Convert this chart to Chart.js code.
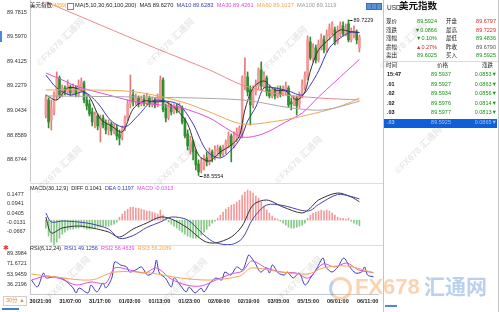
<!DOCTYPE html>
<html>
<head>
<meta charset="utf-8">
<title>美元指数</title>
<script src="https://cdn.jsdelivr.net/npm/chart.js@4.4.1/dist/chart.umd.min.js"></script>
<style>
  html, body { margin: 0; padding: 0; }
  body { position: relative; width: 499px; height: 312px; overflow: hidden; background: #fff;
         font-family: "Liberation Sans", "Noto Sans CJK SC", sans-serif; color: #222; }
  canvas { position: absolute; left: 0; }
  .t { position: absolute; white-space: nowrap; font-size: 5.5px; line-height: 7px; }
  .hl { position: absolute; height: 1px; background: #dedede; }
  #side { position: absolute; left: 383px; top: 0; width: 116px; height: 312px; background: #fff;
          border-left: 1px solid #c4c4c4; border-right: 1px solid #c4c4c4; box-sizing: border-box; }
  .box { position: absolute; }
  .wm { position: absolute; white-space: nowrap; font-size: 9px; font-weight: bold; line-height: 10px;
        color: rgba(120,120,120,0.17); transform: rotate(-45deg); transform-origin: center; pointer-events: none; }
</style>
</head>
<body>
<canvas id="mainChart" width="385" height="182" style="top:0"></canvas>
<canvas id="macdChart" width="385" height="57" style="top:189px"></canvas>
<canvas id="rsiChart" width="385" height="65" style="top:247px"></canvas>
<div class="hl" style="left:30px;top:183px;width:353px"></div>
<div class="hl" style="left:30px;top:245px;width:353px"></div>
<div id="side"></div>
<script>
// hourly bars, oldest first
const opens = [89.009,89.122,88.972,89.032,89.152,89.287,89.159,89.212,89.182,89.219,
  89.174,89.212,89.159,89.212,89.249,89.122,89.092,89.032,88.957,89.002,
  88.912,88.987,88.942,88.897,88.942,88.889,88.912,88.867,88.852,88.912,
  88.987,89.092,89.159,89.107,89.137,89.092,89.129,89.099,89.137,89.092,
  89.122,89.084,89.122,89.272,89.062,88.987,89.077,89.032,89.077,89.047,
  89.062,88.972,88.867,88.747,88.807,88.732,88.642,88.597,88.627,88.687,
  88.657,88.732,88.687,88.732,88.762,88.717,88.747,88.792,88.852,88.777,
  88.837,88.867,88.852,89.227,89.294,89.197,89.092,89.182,89.227,89.347,
  89.227,89.287,89.197,89.152,89.197,89.152,89.197,89.167,89.182,89.212,
  89.107,89.092,89.137,89.092,89.152,89.227,89.287,89.557,89.437,89.512,
  89.422,89.527,89.572,89.497,89.602,89.632,89.647,89.557,89.617,89.677,
  89.617,89.692,89.572,89.617,89.632,89.512];
const highs = [89.159,89.137,89.122,89.182,89.332,89.302,89.234,89.227,89.272,89.234,
  89.242,89.227,89.272,89.287,89.264,89.152,89.122,89.062,89.032,89.017,
  89.009,89.009,88.972,88.972,88.957,88.942,88.934,88.897,88.927,89.002,
  89.122,89.309,89.197,89.167,89.152,89.152,89.159,89.174,89.152,89.144,
  89.137,89.167,89.302,89.287,89.092,89.107,89.092,89.092,89.092,89.099,
  89.077,88.987,88.897,88.852,88.822,88.747,88.672,88.687,88.709,88.732,
  88.762,88.747,88.777,88.784,88.777,88.784,88.822,88.882,88.867,88.882,
  88.912,88.927,89.302,89.437,89.332,89.227,89.227,89.272,89.362,89.407,
  89.332,89.302,89.227,89.212,89.212,89.227,89.227,89.227,89.257,89.227,
  89.137,89.152,89.152,89.182,89.272,89.332,89.602,89.594,89.542,89.534,
  89.572,89.617,89.602,89.647,89.692,89.707,89.669,89.677,89.707,89.707,
  89.692,89.7229,89.662,89.677,89.647,89.609];
const lows = [88.987,88.912,88.897,89.009,89.122,89.137,89.144,89.159,89.167,89.152,
  89.159,89.144,89.144,89.182,89.099,89.047,89.002,88.927,88.912,88.897,
  88.807,88.912,88.867,88.859,88.859,88.867,88.822,88.784,88.822,88.889,
  88.964,89.062,89.077,89.084,89.069,89.077,89.077,89.084,89.069,89.069,
  89.062,89.069,89.107,89.032,88.957,88.972,89.009,89.017,89.024,89.032,
  88.942,88.837,88.747,88.717,88.672,88.597,88.5554,88.574,88.597,88.627,
  88.634,88.657,88.672,88.702,88.694,88.702,88.717,88.762,88.657,88.762,
  88.807,88.837,88.837,89.197,89.152,88.934,89.062,89.159,89.197,89.197,
  89.212,89.152,89.137,89.137,89.129,89.137,89.144,89.152,89.159,89.069,
  89.047,89.077,89.009,89.062,89.137,89.197,89.272,89.422,89.407,89.399,
  89.407,89.497,89.474,89.482,89.572,89.609,89.534,89.542,89.594,89.602,
  89.602,89.557,89.557,89.587,89.542,89.482];
const closes = [89.137,88.957,89.062,89.159,89.287,89.159,89.212,89.182,89.227,89.174,
  89.212,89.167,89.234,89.257,89.122,89.077,89.017,88.957,89.009,88.927,
  88.987,88.934,88.897,88.942,88.889,88.919,88.852,88.837,88.912,88.987,
  89.092,89.159,89.107,89.137,89.092,89.129,89.099,89.137,89.092,89.122,
  89.084,89.137,89.272,89.047,88.987,89.077,89.032,89.077,89.047,89.077,
  88.957,88.852,88.777,88.822,88.732,88.634,88.582,88.657,88.687,88.657,
  88.732,88.687,88.747,88.762,88.717,88.762,88.807,88.852,88.777,88.852,
  88.882,88.912,89.287,89.309,89.182,89.084,89.197,89.242,89.347,89.227,
  89.302,89.182,89.152,89.197,89.152,89.197,89.167,89.204,89.227,89.084,
  89.092,89.137,89.077,89.152,89.242,89.309,89.572,89.437,89.512,89.422,
  89.542,89.587,89.497,89.617,89.662,89.692,89.557,89.647,89.684,89.617,
  89.662,89.572,89.632,89.647,89.572,89.5924];

// moving averages: [bar, value]
const ma5 = [[0,89.159],[4,89.122],[8,89.212],[12,89.204],[16,89.144],[20,88.979],[24,88.927],[28,88.882],
  [32,89.054],[36,89.114],[40,89.107],[44,89.107],[48,89.047],[52,88.942],[56,88.709],[60,88.664],
  [64,88.732],[68,88.784],[71,88.852],[73,89.047],[76,89.212],[80,89.264],[84,89.197],[88,89.189],
  [92,89.122],[95,89.182],[97,89.339],[100,89.497],[104,89.579],[108,89.647],[112,89.632],[115,89.627]];
const ma10 = [[0,89.309],[4,89.212],[9,89.159],[14,89.182],[19,89.099],[24,88.964],[29,88.919],[34,89.009],
  [39,89.114],[44,89.114],[49,89.084],[54,88.942],[59,88.739],[64,88.687],[69,88.769],[72,88.859],
  [74,88.964],[77,89.069],[80,89.212],[84,89.212],[89,89.189],[94,89.159],[97,89.234],[100,89.339],
  [104,89.512],[108,89.587],[112,89.632],[115,89.628]];
const ma30 = [[0,89.324],[6,89.272],[12,89.219],[23,89.159],[33,89.107],[45,89.077],[50,89.062],[60,88.987],
  [66,88.912],[72,88.844],[77,88.852],[82,88.889],[88,88.957],[94,89.024],[100,89.144],[106,89.257],
  [110,89.332],[115,89.426]];
const ma60 = [[0,89.197],[15,89.197],[33,89.182],[50,89.107],[60,89.032],[72,88.942],[85,88.964],
  [96,89.009],[106,89.062],[112,89.107],[115,89.137]];
const ma100 = [[0,89.152],[33,89.144],[72,89.122],[90,89.062],[102,89.047],[115,89.112]];
const ma200 = [[0,89.857],[20,89.684],[40,89.512],[60,89.347],[72,89.234],[85,89.167],[100,89.137],[115,89.122]];

// MACD(30,12,9)
const macdHist = [-0.045,-0.090,-0.124,-0.141,-0.124,-0.102,-0.079,-0.068,-0.057,-0.051,
  -0.051,-0.045,-0.045,-0.040,-0.045,-0.051,-0.051,-0.045,-0.045,-0.040,
  -0.040,-0.034,-0.034,-0.034,-0.028,-0.023,-0.011,0.017,0.034,0.051,
  0.062,0.073,0.073,0.068,0.068,0.062,0.057,0.051,0.051,0.045,
  0.040,0.034,0.057,0.028,0.011,-0.011,-0.023,-0.034,-0.045,-0.057,
  -0.068,-0.079,-0.090,-0.096,-0.102,-0.102,-0.096,-0.085,-0.068,-0.051,
  -0.034,-0.017,-0.006,0.011,0.028,0.045,0.062,0.073,0.085,0.090,
  0.102,0.113,0.141,0.158,0.170,0.164,0.153,0.136,0.124,0.102,
  0.079,0.057,0.040,0.023,0.011,0.006,-0.006,-0.017,-0.028,-0.040,
  -0.045,-0.045,-0.040,-0.034,-0.028,-0.017,0.011,0.028,0.040,0.045,
  0.051,0.057,0.051,0.057,0.051,0.040,0.028,0.017,0.011,0.011,
  0.006,0.011,-0.006,-0.017,-0.023,-0.0313];
const diff = [[0,0.0177],[2,-0.0727],[6,-0.0444],[12,-0.0331],[17,-0.0444],[23,-0.0670],[27,-0.0953],
  [32,-0.0501],[37,-0.0162],[42,0.0177],[46,0.0064],[52,-0.0444],[58,-0.1179],[62,-0.1292],[68,-0.0953],
  [72,-0.0331],[76,0.0855],[81,0.1138],[87,0.0742],[94,0.0403],[97,0.0686],[100,0.1138],[107,0.1534],
  [112,0.1307],[115,0.1041]];
const dea = [[0,0.0403],[2,-0.0105],[6,-0.0049],[12,-0.0105],[17,-0.0218],[23,-0.0501],[27,-0.1037],
  [32,-0.0868],[37,-0.0416],[42,-0.0105],[46,0.0177],[52,0.0008],[58,-0.0840],[62,-0.1263],[68,-0.1376],
  [72,-0.1037],[76,0.0093],[81,0.0855],[87,0.0827],[94,0.0545],[97,0.0545],[100,0.0884],[107,0.1449],
  [112,0.1336],[115,0.1197]];

// RSI(6,12,24)
const rsi1 = [[0,43.8],[2,31.9],[4,55.7],[5,47.2],[7,48.9],[10,47.2],[12,40.4],[14,30.2],[15,21.7],[16,30.2],
  [19,21.7],[20,35.3],[22,23.4],[24,38.7],[25,30.2],[27,47.2],[28,74.5],[30,69.4],[32,66.0],[33,57.4],
  [35,60.9],[37,66.0],[39,52.3],[41,57.4],[42,77.9],[43,55.7],[45,47.2],[47,31.9],[48,47.2],[50,35.3],
  [52,23.4],[53,31.9],[55,21.7],[57,30.2],[58,23.4],[60,38.7],[62,47.2],[64,43.8],[65,57.4],[67,52.3],
  [69,66.0],[71,60.9],[73,86.4],[74,81.3],[75,74.5],[77,57.4],[79,64.3],[80,55.7],[81,69.4],[83,55.7],
  [85,52.3],[86,57.4],[88,47.2],[90,55.7],[92,35.3],[94,48.9],[96,64.3],[98,81.3],[99,66.0],[101,57.4],
  [103,66.0],[105,81.3],[107,66.0],[109,55.7],[111,57.4],[112,66.0],[113,52.3],[115,49.1256]];
const rsi2 = [[0,43.8],[5,50.6],[10,45.5],[15,35.3],[20,40.4],[25,38.7],[28,64.3],[33,60.9],[38,55.7],
  [42,64.3],[47,45.5],[52,35.3],[57,33.6],[62,43.8],[67,54.0],[71,59.1],[74,76.2],[79,64.3],[84,57.4],
  [89,55.7],[93,47.2],[98,71.1],[102,66.0],[106,72.8],[110,60.9],[115,56.4639]];
const rsi3 = [[0,54.0],[8,48.9],[20,43.8],[28,57.4],[40,55.7],[50,47.2],[60,43.8],[70,50.6],[74,64.3],
  [84,57.4],[93,54.0],[98,64.3],[106,67.7],[115,56.2089]];

// axis ticks
const priceTicks = [89.7815, 89.5970, 89.4125, 89.2279, 89.0434, 88.8589, 88.6744];
const macdTicks = [0.1477, 0.0941, 0.0405, -0.0131, -0.0667];
const rsiTicks = [89.3984, 71.6721, 53.9459, 36.2196];
const timeTickBars = [3, 13, 23, 33, 43, 53, 63, 73, 83, 93, 103, 113];
const timeTickLabels = ['30/21:00', '31/07:00', '31/17:00', '01/03:00', '01/13:00', '01/23:00',
  '02/09:00', '02/19:00', '03/05:00', '05/15:00', '06/01:00', '06/11:00'];

// quote panel
const quoteRows = [
  ['现价', '89.5924', 'g', '开盘', '89.6797', 'r'],
  ['涨跌', '▼0.0866', 'g', '最高', '89.7229', 'r'],
  ['涨幅', '▼0.10%', 'g', '最低', '89.4836', 'g'],
  ['震幅', '▲0.27%', 'r', '昨收', '89.6790', 'k'],
  ['卖出', '89.6025', 'g', '买入', '89.5925', 'g']
];
const tradeRows = [
  ['15:47', '89.5937', '0.0853▼'],
  ['.01', '89.5927', '0.0863▼'],
  ['.02', '89.5934', '0.0856▼'],
  ['.02', '89.5976', '0.0814▼'],
  ['.03', '89.5977', '0.0813▼'],
  ['.03', '89.5925', '0.0865▼']
];

const RED = '#f29a9a', GREEN = '#2f8f2f';
const FONT = 'Liberation Sans';
Chart.defaults.font.family = FONT;

const pts = arr => arr.map(p => ({ x: p[0], y: p[1] }));
const line = (arr, color, order) => ({
  type: 'line', data: pts(arr), borderColor: color, borderWidth: 1,
  pointRadius: 0, tension: 0.3, order: order || 1
});

function yAxis(min, max, ticks) {
  return {
    position: 'left', min: min, max: max,
    afterBuildTicks: s => { s.ticks = ticks.map(v => ({ value: v })); },
    ticks: { crossAlign: 'far', padding: 0, autoSkip: false, color: '#333',
      font: { size: 5.5, family: FONT }, callback: v => Number(v).toFixed(4) },
    grid: { display: false },
    border: { display: true, color: '#c8c8c8' },
    afterFit: s => { s.width = 23; s.paddingTop = 0; s.paddingBottom = 0; }
  };
}

function xAxis(show) {
  return {
    type: 'linear', min: -0.5, max: 116.5, display: show,
    afterBuildTicks: s => { s.ticks = timeTickBars.map(v => ({ value: v })); },
    ticks: { autoSkip: false, maxRotation: 0, padding: 4, color: '#222',
      font: { size: 5.5, family: FONT, weight: 'bold' },
      callback: (v, i) => timeTickLabels[i] },
    grid: { display: false, drawTicks: false },
    border: { display: true, color: '#c8c8c8' },
    // the hidden axes must keep zero height
    afterFit: s => { s.height = show ? 18 : 0; s.paddingLeft = 0; s.paddingRight = 0; }
  };
}

function baseOptions(y, showX) {
  return {
    responsive: false, animation: false, events: [],
    layout: { padding: { left: 7, right: 7, top: 0, bottom: 0 } },
    plugins: { legend: { display: false }, tooltip: { enabled: false } },
    scales: { x: xAxis(showX), y: y }
  };
}

// marks the highest and lowest price of the window
const extremeLabels = {
  id: 'extremeLabels',
  afterDatasetsDraw(chart) {
    const { ctx, scales: { x, y } } = chart;
    const hi = Math.max(...highs), lo = Math.min(...lows);
    ctx.save();
    ctx.font = '5.5px "' + FONT + '"';
    ctx.fillStyle = '#222';
    ctx.strokeStyle = '#222';
    ctx.lineWidth = 1;
    ctx.textBaseline = 'middle';
    let px = x.getPixelForValue(highs.indexOf(hi)), py = Math.round(y.getPixelForValue(hi)) + 0.5;
    ctx.beginPath(); ctx.moveTo(px + 1, py); ctx.lineTo(px + 4, py); ctx.stroke();
    ctx.fillText(hi.toFixed(4), px + 5, py);
    px = x.getPixelForValue(lows.indexOf(lo)); py = Math.round(y.getPixelForValue(lo)) + 1.5;
    ctx.beginPath(); ctx.moveTo(px + 1, py); ctx.lineTo(px + 4, py); ctx.stroke();
    ctx.fillText(lo.toFixed(4), px + 5, py);
    ctx.restore();
  }
};

const isUp = i => closes[i] >= opens[i];

new Chart(document.getElementById('mainChart'), {
  type: 'bar',
  data: {
    datasets: [
      { data: lows.map((l, i) => ({ x: i, y: [l, highs[i]] })), barThickness: 1, grouped: false, order: 10,
        backgroundColor: ctx => isUp(ctx.dataIndex) ? '#e87878' : GREEN },
      { data: opens.map((o, i) => ({ x: i, y: [o, closes[i]] })), barThickness: 2, grouped: false, order: 9,
        minBarLength: 1, backgroundColor: ctx => isUp(ctx.dataIndex) ? RED : GREEN },
      line(ma200, '#e98a8a'),
      line(ma100, '#a8a8a8'),
      line(ma60, '#f2a655'),
      line(ma30, '#e24ce0'),
      line(ma10, '#3b3bb8'),
      line(ma5, '#333333')
    ]
  },
  options: baseOptions(yAxis(88.5065, 89.8715, priceTicks), false),
  plugins: [extremeLabels]
});

new Chart(document.getElementById('macdChart'), {
  type: 'bar',
  data: {
    datasets: [
      { data: macdHist.map((v, i) => ({ x: i, y: v })), barThickness: 1, grouped: false, order: 10,
        backgroundColor: ctx => macdHist[ctx.dataIndex] >= 0 ? '#f29a9a' : '#86c886' },
      line(dea, '#4343b5'),
      line(diff, '#333333')
    ]
  },
  options: baseOptions(yAxis(-0.1460, 0.1760, macdTicks), false)
});

new Chart(document.getElementById('rsiChart'), {
  type: 'line',
  data: {
    datasets: [
      line(rsi3, '#f2a655'),
      line(rsi2, '#e24ce0'),
      line(rsi1, '#3b3bb8')
    ]
  },
  options: baseOptions(yAxis(20, 100, rsiTicks), true)
});

// ---- text overlays ----
function addText(html, x, y, opt) {
  opt = opt || {};
  const el = document.createElement('div');
  el.className = 't';
  el.innerHTML = html;
  el.style.top = y + 'px';
  if (opt.align === 'right') {
    el.style.left = (x - 60) + 'px'; el.style.width = '60px'; el.style.textAlign = 'right';
  } else {
    el.style.left = x + 'px';
  }
  if (opt.color) el.style.color = opt.color;
  if (opt.size) el.style.fontSize = opt.size + 'px';
  if (opt.bold) el.style.fontWeight = 'bold';
  document.body.appendChild(el);
  return el;
}
function addBox(css) {
  const el = document.createElement('div');
  el.className = 'box';
  el.style.cssText += css;
  document.body.appendChild(el);
  return el;
}

const colorOf = { g: '#169416', r: '#e3262b', k: '#555' };

// panel headers
addText('美元指数<span style="color:#f0a030;font-size:5px">(4059)</span>', 30, 2);
addBox('left:67px;top:3px;width:5px;height:5px;border:1px solid #9a6ad0;');
addText('MA(5,10,30,60,100,200)&nbsp; MA5 89.6270&nbsp; <span style="color:#3b3bb8">MA10 89.6283</span>&nbsp; ' +
  '<span style="color:#e24ce0">MA30 89.4261</span>&nbsp; <span style="color:#f2a655">MA60 89.1037</span>&nbsp; ' +
  '<span style="color:#999">MA100 89.1119</span>', 75, 2, { size: 5.7 });
addText('MACD(30,12,9)&nbsp; DIFF 0.1041&nbsp; <span style="color:#3b3bb8">DEA 0.1197</span>&nbsp; ' +
  '<span style="color:#e24ce0">MACD -0.0313</span>', 30, 185);
addText('RSI(6,12,24)&nbsp; <span style="color:#3b3bb8">RSI1 49.1256</span>&nbsp; ' +
  '<span style="color:#e24ce0">RSI2 56.4639</span>&nbsp; <span style="color:#f2a655">RSI3 56.2089</span>', 30, 245);
addText('✱', 3, 244, { color: '#e33', size: 7 });

// small widgets
addBox('left:0;top:31px;width:2px;height:11px;background:#4f86d9;');
[366, 371, 376].forEach(x => addBox('left:' + x + 'px;top:3px;width:4px;height:5px;background:#5b8fd6;border:0.5px solid #3a6fc0;'));
addBox('left:3px;top:296px;width:22px;height:8px;border:1px solid #cfcfcf;');
addText('30分 ▲', 6, 297, { color: '#e8892a' });
addBox('left:2px;top:308px;width:17px;height:2px;background:#3b7fd4;');
addBox('left:385px;top:305px;width:12px;height:2px;background:#4f86d9;');

// quote panel on the right
addText('USD', 387, 4, { size: 6.5 });
addText('美元指数', 399, 1.5, { size: 9.5, bold: true, color: '#111' });
quoteRows.forEach((r, i) => {
  const y = 18 + i * 8.6;
  addText(r[0], 386, y);
  addText(r[1], 437, y, { align: 'right', color: colorOf[r[2]] });
  addText(r[3], 446, y);
  addText(r[4], 496, y, { align: 'right', color: colorOf[r[5]] });
});
addBox('left:384px;top:61px;width:114px;height:1px;background:#dcdcdc;');
addText('时间', 386, 62);
addText('价格', 437, 62);
addText('涨跌', 482, 62);
addBox('left:384px;top:118.5px;width:113px;height:9px;background:#0f5fd8;');
tradeRows.forEach((r, i) => {
  const y = 71 + i * 9.5;
  const last = i === tradeRows.length - 1;
  addText(r[0], 387, y, { bold: true, color: last ? '#9cc4ff' : '#111' });
  addText(r[1], 451, y, { align: 'right', color: last ? '#9cc4ff' : colorOf.g });
  addText(r[2], 497, y, { align: 'right', color: last ? '#9cc4ff' : colorOf.g });
});

// faint diagonal watermarks
[[62, 42], [172, 42], [285, 50], [405, 45], [60, 170], [178, 165], [300, 160], [420, 150],
 [68, 280], [185, 282], [300, 280]].forEach(p => {
  const el = document.createElement('div');
  el.className = 'wm';
  el.textContent = '©FX678 汇通网';
  el.style.left = (p[0] - 33) + 'px';
  el.style.top = (p[1] - 5) + 'px';
  document.body.appendChild(el);
});

// FX678 watermark logo
addBox('left:329px;top:277px;width:17px;height:17px;border-radius:50%;border:3px solid rgba(243,160,80,0.45);border-left-color:rgba(80,140,210,0.4);');
addText('FX678', 355, 274, { size: 22, bold: true, color: 'rgba(243,160,80,0.45)' }).style.lineHeight = '26px';
addText('汇通网', 424, 274, { size: 21, bold: true, color: 'rgba(80,140,210,0.4)' }).style.lineHeight = '26px';
</script>
</body>
</html>
